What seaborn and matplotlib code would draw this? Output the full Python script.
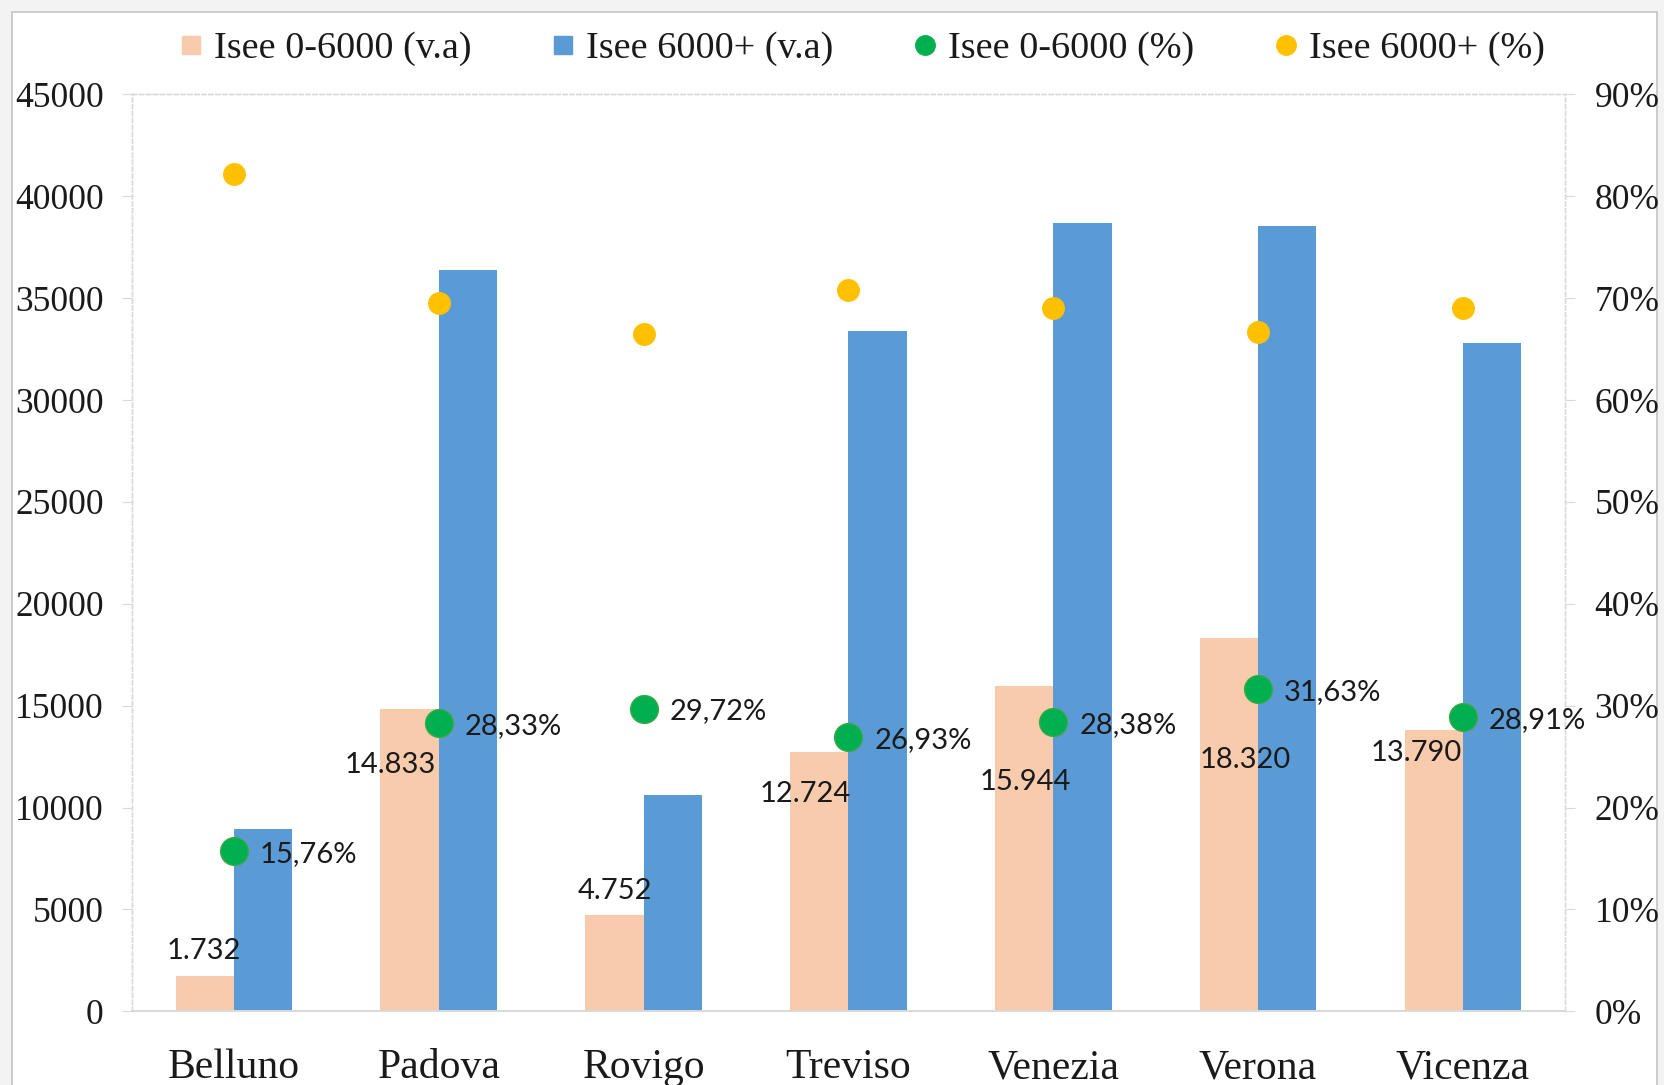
import numpy as np
import pandas as pd
import matplotlib
matplotlib.use('Agg')
import matplotlib.pyplot as plt
import seaborn as sns
from matplotlib.lines import Line2D
from matplotlib.patches import Rectangle

# dati per provincia
province = ['Belluno', 'Padova', 'Rovigo', 'Treviso', 'Venezia', 'Verona', 'Vicenza']
isee_low_va = [1732, 14833, 4752, 12724, 15944, 18320, 13790]
isee_high_va = [8960, 36400, 10620, 33390, 38700, 38540, 32810]
isee_low_pct = [15.76, 28.33, 29.72, 26.93, 28.38, 31.63, 28.91]
isee_high_pct = [82.2, 69.5, 66.5, 70.8, 69.0, 66.7, 69.0]

series_names = ['Isee 0-6000 (v.a)', 'Isee 6000+ (v.a)', 'Isee 0-6000 (%)', 'Isee 6000+ (%)']
c_orange = '#F8CBAD'
c_blue = '#5B9BD5'
c_green = '#00B050'
c_yellow = '#FFC000'

# spostamento (pixel) delle etichette dei valori assoluti, come nel grafico originale
low_label_offsets = [(-1, 25), (-19, -56), (0, 24), (-14, -42), (1, -96), (16, -122), (-17, -23)]

serif = 'Liberation Serif'
sans = 'Lato'
grid_col = '#d9d9d9'

df_va = pd.DataFrame({
    'province': province * 2,
    'series': [series_names[0]] * 7 + [series_names[1]] * 7,
    'value': isee_low_va + isee_high_va,
})
df_low = pd.DataFrame({'province': province, 'pct': isee_low_pct})
df_high = pd.DataFrame({'province': province, 'pct': isee_high_pct})

sns.set_style('white')
fig = plt.figure(figsize=(16.64, 10.85), dpi=100, facecolor='#f3f3f3')
fig.add_artist(Rectangle((0.0072, -0.05), 0.9886, 0.989 + 0.05, transform=fig.transFigure,
                         facecolor='white', edgecolor='#c4c4c4', lw=1.2, zorder=-10))
ax = fig.add_axes([0.0791, 0.0679, 0.8616, 0.8451])
ax.set_facecolor('none')

sns.barplot(data=df_va, x='province', y='value', hue='series', palette=[c_orange, c_blue],
            width=0.57, saturation=1, errorbar=None, legend=False, linewidth=0, ax=ax)

ax2 = ax.twinx()
sns.pointplot(data=df_high, x='province', y='pct', color=c_yellow, linestyle='none',
              markers='o', markersize=16.5, markeredgewidth=0, errorbar=None, ax=ax2)
sns.pointplot(data=df_low, x='province', y='pct', color=c_green, linestyle='none',
              markers='o', markersize=20, markeredgecolor='#3aa845', markeredgewidth=1,
              errorbar=None, ax=ax2)

ax.set_xlim(-0.5, 6.5)
ax.set_ylim(0, 45000)
ax2.set_ylim(0, 90)
ax.set_yticks(np.arange(0, 45001, 5000))
ax2.set_yticks(np.arange(0, 91, 10))
ax2.set_yticklabels([f'{t}%' for t in range(0, 91, 10)])
ax.set_xlabel('')
ax.set_ylabel('')
ax2.set_xlabel('')
ax2.set_ylabel('')

# etichette
for i, v in enumerate(isee_low_va):
    ax.annotate(f'{v:,}'.replace(',', '.'), xy=(i - 0.1425, v), xytext=low_label_offsets[i],
                textcoords='offset pixels', ha='center', va='center',
                fontsize=21, family=sans, color='#1a1a1a', zorder=5)
for i, p in enumerate(isee_low_pct):
    ax2.annotate(f'{p:.2f}%'.replace('.', ','), xy=(i, p), xytext=(26, -3),
                 textcoords='offset pixels', ha='left', va='center',
                 fontsize=21, family=sans, color='#1a1a1a', zorder=5)

# assi
for a in (ax, ax2):
    for s in ('left', 'right', 'top'):
        a.spines[s].set_color(grid_col)
        a.spines[s].set_linestyle((0, (3, 2)))
        a.spines[s].set_linewidth(1)
    a.spines['bottom'].set_color(grid_col)
    a.spines['bottom'].set_linewidth(1.2)

ax.tick_params(axis='y', which='major', length=7, color=grid_col, pad=13,
               labelsize=25.5, labelcolor='#1a1a1a')
ax2.tick_params(axis='y', which='major', length=7, color=grid_col, pad=14,
                labelsize=25.5, labelcolor='#1a1a1a')
ax.set_xticks(np.arange(-0.5, 7, 1), minor=True)
ax.tick_params(axis='x', which='minor', length=9, color=grid_col, width=1)
ax.tick_params(axis='x', which='major', length=0, pad=27, labelsize=30, labelcolor='#1a1a1a')
for lab in ax.get_xticklabels() + ax.get_yticklabels() + ax2.get_yticklabels():
    lab.set_family(serif)

handles = [
    Line2D([], [], marker='s', linestyle='none', color=c_orange, markersize=13),
    Line2D([], [], marker='s', linestyle='none', color=c_blue, markersize=13),
    Line2D([], [], marker='o', linestyle='none', color=c_green, markersize=14),
    Line2D([], [], marker='o', linestyle='none', color=c_yellow, markersize=14),
]
fig.legend(handles, series_names, loc='center', bbox_to_anchor=(0.518, 1 - 49 / 1085),
           ncol=4, frameon=False, prop={'family': serif, 'size': 27.5},
           handlelength=0.6, handletextpad=0.3, columnspacing=2.1, labelcolor='#1a1a1a')

fig.savefig('out.png', dpi=100, facecolor=fig.get_facecolor())
